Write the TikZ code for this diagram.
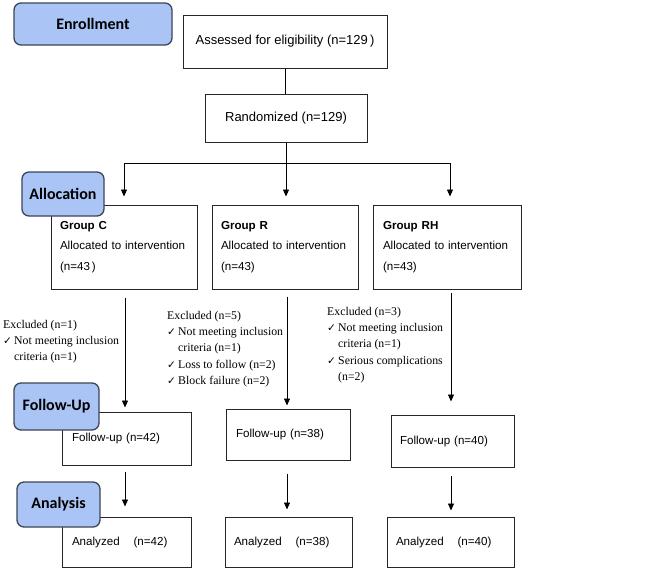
\documentclass[tikz,border=0pt]{standalone}
\usepackage{fontspec}
\setmainfont{Liberation Sans}
\newfontfamily\labfont{Carlito}
\newfontfamily\serfont{Liberation Serif}
\newfontfamily\symfont{DejaVu Sans}
\usetikzlibrary{arrows.meta,calc}
\definecolor{labfill}{HTML}{A9C4F5}
\definecolor{labdraw}{HTML}{3C4654}
\newcommand\ck{\makebox[11pt][l]{\symfont\fontsize{10.5}{10.5}\selectfont ✓}}
\newcommand\ind{\hspace*{11pt}}
\newcommand\nohyph{\hyphenpenalty=10000\relax}
\begin{document}
\begin{tikzpicture}[x=1pt,y=-1pt,
  box/.style={draw=black!85, line width=1pt, inner sep=0pt, fill=white},
  topbox/.style={box, font=\fontsize{13}{15}\selectfont},
  gbox/.style={box, minimum width=146pt, minimum height=84pt, text width=128pt, align=left, font=\fontsize{11.6}{20.5}\selectfont\nohyph},
  sbox/.style={box, align=left, font=\fontsize{11.6}{14}\selectfont},
  labbox/.style={draw=labdraw, fill=labfill, line width=1.3pt, rounded corners=7pt, inner sep=0pt, font=\labfont\bfseries\fontsize{16}{18}\selectfont},
  excl/.style={font=\serfont\fontsize{11.8}{16.3}\selectfont, align=left, inner sep=0pt, anchor=north west},
  conn/.style={line width=0.8pt},
  arr/.style={conn, -{Triangle[length=7pt,width=6pt]}}]
\useasboundingbox (0,0) rectangle (669,571);

% top boxes
\node[topbox, minimum width=204pt, minimum height=53pt] (assess) at (285,41.5) {Assessed for eligibility (n=129\,)};
\node[topbox, minimum width=162pt, minimum height=48pt] (rand) at (286,118) {Randomized (n=129)};

% group boxes
\node[gbox] (gC) at (124,247) {\textbf{Group C}\\Allocated to intervention\\(n=43\,)};
\node[gbox] (gR) at (285,247) {\textbf{Group R}\\Allocated to intervention\\(n=43)};
\node[gbox, minimum width=148pt] (gRH) at (447,247) {\textbf{Group RH}\\Allocated to intervention\\(n=43)};

% follow-up boxes
\node[sbox, minimum width=129pt, minimum height=53pt, text width=109pt] (fC) at (126.5,438.5) {Follow-up (n=42)};
\node[sbox, minimum width=124pt, minimum height=51pt, text width=104pt] (fR) at (288,434.5) {Follow-up (n=38)};
\node[sbox, minimum width=123pt, minimum height=52pt, text width=105pt] (fRH) at (452.5,441) {Follow-up (n=40)};

% analyzed boxes
\node[sbox, minimum width=129pt, minimum height=50pt, text width=109pt] (aC) at (126.5,542) {Analyzed\hspace{1.2em}(n=42)};
\node[sbox, minimum width=127pt, minimum height=50pt, text width=109pt] (aR) at (288.5,542) {Analyzed\hspace{1.2em}(n=38)};
\node[sbox, minimum width=127pt, minimum height=50pt, text width=109pt] (aRH) at (450.5,542) {Analyzed\hspace{1.2em}(n=40)};

% exclusions
\node[excl] (xC) at (3,320) {Excluded (n=1)\\\ck Not meeting inclusion\\\ind criteria (n=1)};
\node[excl] (xR) at (167,311) {Excluded (n=5)\\\ck Not meeting inclusion\\\ind criteria (n=1)\\\ck Loss to follow (n=2)\\\ck Block failure (n=2)};
\node[excl] (xRH) at (327,307) {Excluded (n=3)\\\ck Not meeting inclusion\\\ind criteria (n=1)\\\ck Serious complications\\\ind (n=2)};

% connectors
\coordinate (split) at (285,163);
\draw[conn] (assess.south) -- (assess.south |- rand.north);
\draw[arr, shorten >=8pt] (rand.south) -- (rand.south |- gR.north);
\draw[arr, shorten >=8pt] (split) -| (gC.north);
\draw[arr, shorten >=8pt] (split) -| ([xshift=3pt]gRH.north);

\draw[arr, shorten <=8pt, shorten >=4pt] ([xshift=1pt]gC.south) -- ([xshift=1pt]gC.south |- fC.north);
\draw[arr, shorten <=7pt, shorten >=3pt] ([xshift=2pt]gR.south) -- ([xshift=2pt]gR.south |- fR.north);
\draw[arr, shorten <=3pt, shorten >=13pt] ([xshift=4pt]gRH.south) -- ([xshift=4pt]gRH.south |- fRH.north);

\draw[arr, shorten <=6pt, shorten >=10pt] ([xshift=-1.5pt]fC.south) -- ([xshift=-1.5pt]fC.south |- aC.north);
\draw[arr, shorten <=13pt, shorten >=7pt] ([xshift=-1pt]fR.south) -- ([xshift=-1pt]fR.south |- aR.north);
\draw[arr, shorten <=8pt, shorten >=6pt] ([xshift=-1.5pt]fRH.south) -- ([xshift=-1.5pt]fRH.south |- aRH.north);

% phase labels
\node[labbox, minimum width=158pt, minimum height=42pt] (lEnr) at (93,24) {Enrollment};
\node[labbox, minimum width=82pt, minimum height=44pt] (lAll) at (63,194) {Allocation};
\node[labbox, minimum width=85pt, minimum height=47pt] (lFol) at (56.5,406.5) {Follow-Up};
\node[labbox, minimum width=83pt, minimum height=45pt] (lAna) at (58.5,504.5) {Analysis};
\end{tikzpicture}
\end{document}
